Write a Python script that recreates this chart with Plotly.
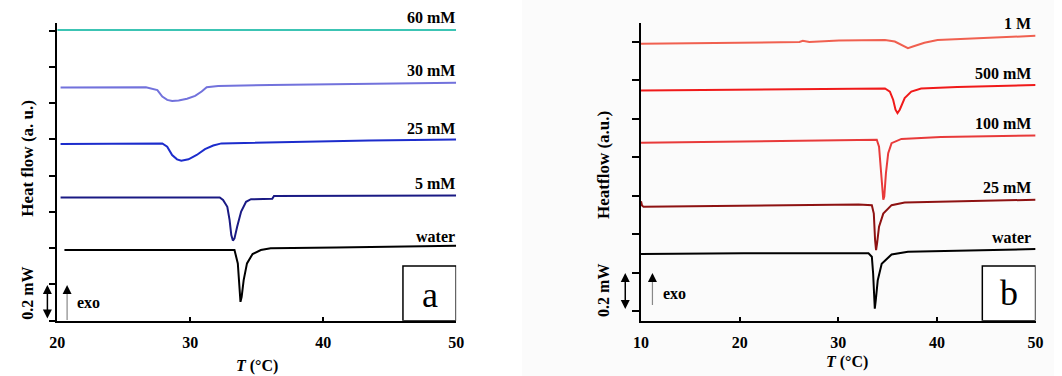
import plotly.graph_objects as go

W, H = 1062, 376

# ---------------- Panel a data (T in °C, heat flow in arbitrary offset units) ----------------
a_labels = ["60 mM", "30 mM", "25 mM", "5 mM", "water"]
a_colors = ["#3cc4b4", "#7272dc", "#1c2ccc", "#1a1a84", "#000000"]

a60_T = [20.0, 35.0, 50.0]
a60_y = [8.02, 8.02, 8.02]

a30_T = [20.25, 26.67, 27.53, 27.9, 28.27, 28.64, 29.13, 29.76, 30.37, 30.86, 31.24, 32.1, 36.05, 43.46, 50.0]
a30_y = [6.43, 6.44, 6.36, 6.18, 6.09, 6.06, 6.07, 6.12, 6.20, 6.32, 6.44, 6.47, 6.50, 6.53, 6.56]

a25_T = [20.25, 27.9, 28.27, 28.64, 29.01, 29.33, 29.87, 30.49, 31.11, 31.73, 32.35, 36.05, 43.46, 50.0]
a25_y = [4.87, 4.89, 4.80, 4.57, 4.45, 4.41, 4.45, 4.57, 4.73, 4.83, 4.89, 4.92, 4.97, 5.00]

a5_T = [20.25, 32.22, 32.47, 32.79, 32.96, 33.09, 33.21, 33.33, 33.53, 33.83, 34.2, 34.57, 36.17, 36.3, 50.0]
a5_y = [3.40, 3.40, 3.33, 3.14, 2.78, 2.36, 2.21, 2.27, 2.59, 3.01, 3.28, 3.35, 3.36, 3.44, 3.45]

aw_T = [20.54, 33.33, 33.58, 33.7, 33.78, 33.87, 34.02, 34.27, 34.69, 35.31, 36.05, 40.99, 50.0]
aw_y = [1.95, 1.95, 1.58, 0.94, 0.52, 0.66, 1.12, 1.58, 1.84, 1.95, 2.00, 2.02, 2.07]

a_T = [a60_T, a30_T, a25_T, a5_T, aw_T]
a_Y = [a60_y, a30_y, a25_y, a5_y, aw_y]
a_label_py = [18, 70, 128, 184, 236]  # label centre rows (pixels from top)

# ---------------- Panel b data ----------------
b_labels = ["1 M", "500 mM", "100 mM", "25 mM", "water"]
b_colors = ["#f06050", "#f01a1a", "#e83a3a", "#8e1212", "#000000"]

b1M_T = [10.0, 22.06, 26.06, 26.4, 27.06, 30.06, 34.73, 35.73, 36.56, 37.06, 37.56, 38.73, 40.06, 45.4, 50.0]
b1M_y = [6.94, 6.97, 6.99, 7.02, 6.99, 7.03, 7.04, 7.00, 6.89, 6.83, 6.87, 6.97, 7.04, 7.10, 7.15]

b500_T = [10.0, 32.06, 34.73, 35.23, 35.56, 35.8, 36.0, 36.23, 36.73, 37.4, 38.4, 42.06, 50.0]
b500_y = [5.73, 5.78, 5.78, 5.70, 5.49, 5.23, 5.14, 5.23, 5.53, 5.70, 5.78, 5.82, 5.87]

b100_T = [10.0, 32.06, 33.9, 34.13, 34.33, 34.46, 34.56, 34.66, 34.83, 35.06, 35.4, 36.4, 40.4, 50.0]
b100_y = [4.37, 4.45, 4.45, 4.27, 3.58, 2.97, 2.89, 2.97, 3.58, 4.10, 4.36, 4.47, 4.52, 4.56]

b25_T = [10.0, 10.1, 10.25, 32.06, 33.4, 33.6, 33.73, 33.83, 33.93, 34.13, 34.56, 35.4, 36.73, 50.0]
b25_y = [2.85, 2.74, 2.71, 2.77, 2.75, 2.53, 1.84, 1.58, 1.76, 2.19, 2.53, 2.75, 2.82, 2.89]

bw_T = [10.0, 20.4, 33.06, 33.4, 33.53, 33.63, 33.7, 33.8, 34.0, 34.4, 35.4, 37.06, 50.0]
bw_y = [1.48, 1.50, 1.50, 1.41, 0.98, 0.28, 0.06, 0.28, 0.80, 1.23, 1.47, 1.54, 1.61]

b_T = [b1M_T, b500_T, b100_T, b25_T, bw_T]
b_Y = [b1M_y, b500_y, b100_y, b25_y, bw_y]
b_label_py = [24, 74, 123, 187, 237]

a_xticks = [20, 30, 40, 50]
b_xticks = [10, 20, 30, 40, 50]

FONT = "Liberation Serif, Times New Roman, serif"

fig = go.Figure()

for T, Y, c in zip(a_T, a_Y, a_colors):
    fig.add_trace(go.Scatter(x=T, y=Y, mode="lines", line=dict(color=c, width=2),
                             xaxis="x", yaxis="y", showlegend=False, hoverinfo="skip"))
for T, Y, c in zip(b_T, b_Y, b_colors):
    fig.add_trace(go.Scatter(x=T, y=Y, mode="lines", line=dict(color=c, width=2),
                             xaxis="x2", yaxis="y2", showlegend=False, hoverinfo="skip"))

def px(x):
    return x / W

def py(y):
    return 1 - y / H

axis_common = dict(showgrid=False, zeroline=False, showline=True, linecolor="black", linewidth=1.5,
                   tickcolor="black", tickwidth=1.5)
xfont = dict(family=FONT, size=16, color="black")

fig.update_layout(
    width=W, height=H, margin=dict(l=0, r=0, t=0, b=0),
    paper_bgcolor="white", plot_bgcolor="rgba(0,0,0,0)",
    xaxis=dict(domain=[px(50), px(455)], range=[20, 50], tickvals=a_xticks,
               ticktext=["<b>%d</b>" % v for v in a_xticks], ticks="inside", ticklen=4,
               ticklabelstandoff=6, tickfont=xfont, anchor="y", **axis_common),
    yaxis=dict(domain=[py(320.7), py(23)], range=[0, 8.21], tickvals=list(range(9)), ticks="outside", ticklen=6,
               showticklabels=False, anchor="x", **axis_common),
    xaxis2=dict(domain=[px(642.7), px(1043.3)], range=[10, 50], tickvals=b_xticks,
                ticktext=["<b>%d</b>" % v for v in b_xticks], ticks="inside", ticklen=4,
                ticklabelstandoff=6, tickfont=xfont, anchor="y2", **axis_common),
    yaxis2=dict(domain=[py(320.7), py(22.7)], range=[-0.252, 7.49], tickvals=list(range(8)), ticks="outside",
                ticklen=7, showticklabels=False, anchor="x2", **axis_common),
)

shapes = []
annotations = []

def txt(xc, yc, text, size=16, angle=0, xanchor="center"):
    annotations.append(dict(x=px(xc), y=py(yc), xref="paper", yref="paper", text=text, textangle=angle,
                            showarrow=False, xanchor=xanchor, yanchor="middle",
                            font=dict(family=FONT, size=size, color="black")))

# faint background of panel b
shapes.append(dict(type="rect", xref="paper", yref="paper", x0=px(522), x1=1, y0=0, y1=1,
                   fillcolor="#fbfbfb", line=dict(width=0), layer="below"))

# curve labels
for lab, yl in zip(a_labels, a_label_py):
    txt(456, yl, "<b>%s</b>" % lab, xanchor="right")
for lab, yl in zip(b_labels, b_label_py):
    txt(1041, yl, "<b>%s</b>" % lab, xanchor="right")

# axis titles
txt(19, 158, "<b>Heat flow (a. u.)</b>", size=17, angle=-90)
txt(604, 165, "<b>Heatflow (a.u.)</b>", size=17, angle=-90)
txt(19, 293, "<b>0.2 mW</b>", angle=-90)
txt(604, 290, "<b>0.2 mW</b>", angle=-90)
txt(253, 366, "<b><i>T</i> (°C)</b>")
txt(852, 362, "<b><i>T</i> (°C)</b>")

# double-headed scale arrows
for xc, y0, y1 in [(40, 285, 320), (626.7, 273, 310.5)]:
    annotations.append(dict(x=px(xc), y=py(y0), xref="paper", yref="paper", ax=0, ay=(y1 - y0),
                            axref="pixel", ayref="pixel", text="", showarrow=True, arrowhead=2,
                            arrowside="end+start", arrowsize=1.2, arrowwidth=1.5, arrowcolor="black"))

# exo arrows: grey shaft, black head
for xc, y0, y1 in [(60, 285, 320), (654.3, 273, 305)]:
    shapes.append(dict(type="line", xref="paper", yref="paper", x0=px(xc), x1=px(xc), y0=py(y1), y1=py(y0 + 6),
                       line=dict(color="#888888", width=1.2)))
    annotations.append(dict(x=px(xc), y=py(y0), xref="paper", yref="paper", ax=0, ay=8,
                            axref="pixel", ayref="pixel", text="", showarrow=True, arrowhead=2,
                            arrowsize=1.2, arrowwidth=1.5, arrowcolor="black"))
txt(82, 302, "<b>exo</b>")
txt(677, 293, "<b>exo</b>")

# panel letter boxes
shapes.append(dict(type="rect", xref="x", yref="y", x0=46.0, x1=50, y0=0, y1=1.51,
                   line=dict(color="black", width=1.5), fillcolor="white"))
shapes.append(dict(type="rect", xref="x2", yref="y2", x0=44.6, x1=50, y0=-0.252, y1=1.17,
                   line=dict(color="black", width=1.5), fillcolor="white"))
txt(428, 295, "a", size=36)
txt(1016.7, 293, "b", size=36)

fig.update_layout(shapes=shapes, annotations=annotations)
fig.write_html("out.html")
